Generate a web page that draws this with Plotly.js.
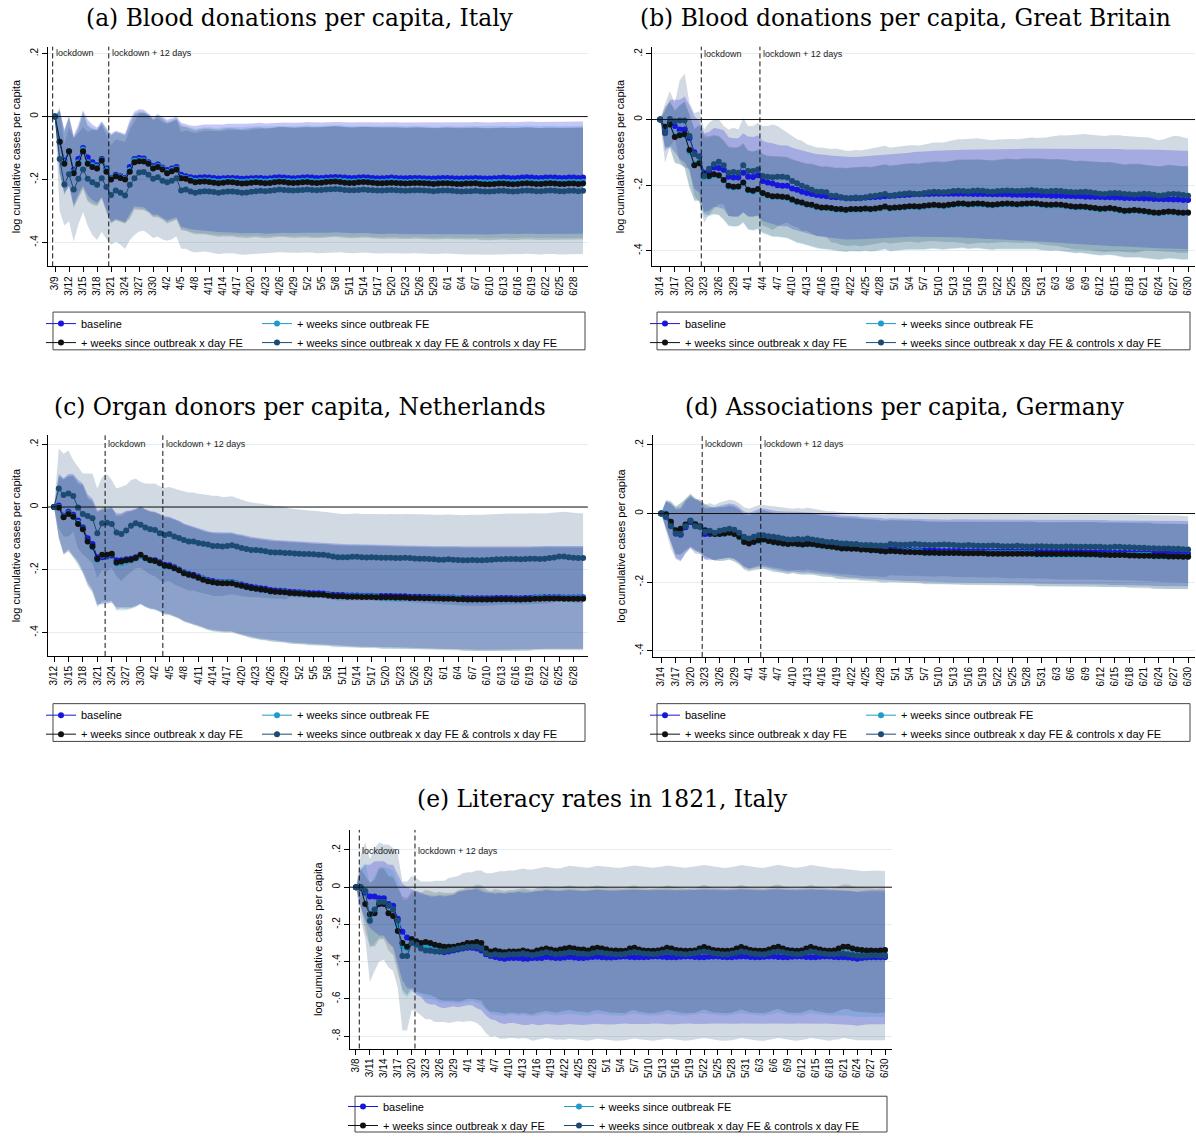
<!DOCTYPE html>
<html><head><meta charset="utf-8">
<script src="https://cdn.plot.ly/plotly-3.0.1.min.js"></script>
<style>html,body{margin:0;padding:0;background:#fff}</style>
</head><body><div id="chart" style="width:1196px;height:1140px"></div>
<script>
// ---------------- DATA ----------------
const seriesNames = ['baseline','+ weeks since outbreak FE','+ weeks since outbreak x day FE','+ weeks since outbreak x day FE & controls x day FE'];
const titles = ['(a) Blood donations per capita, Italy','(b) Blood donations per capita, Great Britain','(c) Organ donors per capita, Netherlands','(d) Associations per capita, Germany','(e) Literacy rates in 1821, Italy'];
const yTickVals = [.2,0,-.2,-.4];
const yTickText = ['.2','0','-.2','-.4'];
const eTickVals = [.2,0,-.2,-.4,-.6,-.8];
const eTickText = ['.2','0','-.2','-.4','-.6','-.8'];
const startDates = ['2020-03-09','2020-03-14','2020-03-12','2020-03-14','2020-03-08'];
const lockdowns = [['2020-03-08 12:00','2020-03-20 12:00'],['2020-03-22 10:00','2020-04-03 10:00'],['2020-03-22 15:00','2020-04-03 15:00'],['2020-03-22 10:00','2020-04-03 10:00'],['2020-03-08 17:00','2020-03-20 17:00']];

// (a) Italy blood donations, 3/9 - 6/30
const aBase=[0,-.08,-.14,-.11,-.17,-.135,-.10,-.13,-.145,-.155,
-.135,-.165,-.195,-.185,-.19,-.195,-.16,-.135,-.132,-.133,
-.145,-.157,-.152,-.162,-.17,-.165,-.16,-.185,-.19,-.193,
-.195,-.194,-.193,-.194,-.195,-.197,-.196,-.195,-.195,-.196,
-.198,-.197,-.196,-.195,-.195,-.197,-.196,-.194,-.193,-.194,
-.195,-.196,-.195,-.194,-.193,-.194,-.195,-.195,-.194,-.193,
-.192,-.193,-.194,-.195,-.195,-.194,-.193,-.194,-.195,-.196,
-.196,-.195,-.194,-.195,-.196,-.196,-.195,-.195,-.195,-.196,
-.197,-.197,-.196,-.195,-.195,-.196,-.197,-.197,-.196,-.196,
-.195,-.196,-.197,-.197,-.196,-.195,-.194,-.195,-.196,-.195,
-.194,-.193,-.194,-.195,-.195,-.194,-.194,-.194,-.195,-.195,
-.194,-.194,-.195,-.194];
const aWfe=[0,-.08,-.145,-.11,-.175,-.145,-.105,-.145,-.155,-.16,
-.138,-.17,-.197,-.188,-.193,-.198,-.17,-.14,-.138,-.139,
-.148,-.162,-.157,-.165,-.176,-.17,-.165,-.192,-.195,-.2,
-.204,-.203,-.202,-.203,-.205,-.207,-.205,-.204,-.204,-.206,
-.207,-.206,-.205,-.204,-.205,-.206,-.205,-.204,-.203,-.204,
-.205,-.206,-.205,-.204,-.203,-.205,-.206,-.205,-.204,-.203,
-.202,-.203,-.205,-.206,-.206,-.205,-.204,-.205,-.206,-.207,
-.207,-.206,-.205,-.206,-.207,-.208,-.207,-.206,-.206,-.207,
-.208,-.209,-.208,-.207,-.207,-.208,-.209,-.209,-.208,-.208,
-.207,-.208,-.209,-.209,-.208,-.207,-.207,-.208,-.209,-.208,
-.207,-.206,-.207,-.208,-.208,-.207,-.206,-.207,-.208,-.208,
-.207,-.207,-.208,-.207];
const aXday=[0,-.08,-.15,-.11,-.18,-.15,-.11,-.15,-.16,-.165,
-.14,-.175,-.20,-.19,-.195,-.20,-.175,-.145,-.142,-.143,
-.15,-.165,-.16,-.168,-.18,-.174,-.168,-.196,-.198,-.204,
-.209,-.207,-.206,-.208,-.21,-.212,-.21,-.208,-.209,-.211,
-.213,-.212,-.21,-.209,-.21,-.212,-.211,-.209,-.207,-.208,
-.21,-.211,-.21,-.209,-.208,-.21,-.211,-.21,-.208,-.207,
-.206,-.208,-.21,-.211,-.211,-.209,-.208,-.209,-.21,-.212,
-.212,-.211,-.21,-.211,-.212,-.213,-.212,-.211,-.211,-.212,
-.213,-.214,-.213,-.212,-.212,-.213,-.214,-.214,-.213,-.213,
-.212,-.214,-.215,-.215,-.214,-.213,-.213,-.214,-.215,-.214,
-.213,-.212,-.213,-.214,-.214,-.213,-.212,-.213,-.214,-.214,
-.213,-.213,-.214,-.213];
const aCtrl=[0,-.135,-.216,-.183,-.232,-.198,-.168,-.198,-.209,-.217,
-.196,-.224,-.249,-.235,-.242,-.251,-.217,-.196,-.178,-.176,
-.185,-.198,-.193,-.204,-.209,-.204,-.196,-.235,-.232,-.238,
-.242,-.239,-.237,-.238,-.24,-.242,-.24,-.238,-.238,-.24,
-.242,-.241,-.239,-.237,-.236,-.237,-.236,-.234,-.232,-.233,
-.234,-.235,-.234,-.233,-.232,-.233,-.234,-.233,-.232,-.231,
-.23,-.231,-.233,-.234,-.234,-.233,-.232,-.233,-.234,-.235,
-.235,-.234,-.233,-.234,-.235,-.236,-.235,-.234,-.234,-.235,
-.236,-.237,-.236,-.235,-.235,-.236,-.237,-.238,-.237,-.237,
-.236,-.237,-.238,-.238,-.237,-.236,-.236,-.237,-.238,-.237,
-.236,-.235,-.236,-.237,-.237,-.236,-.235,-.236,-.237,-.237,
-.236,-.236,-.237,-.236];
const aHw=[0,.10,.10,.11,.11,.11,.12,.12,.12,.12,
.12,.13,.14,.14,.14,.14,.15,.15,.155,.155,
.155,.155,.16,.16,.16,.16,.16,.165,.165,.165,
.165,.167,.168,.169,.17,.17,.171,.172,.172,.173,
.173,.174,.174,.174,.175,.175,.175,.175,.175,.175,
.175,.175,.175,.175,.176,.176,.176,.176,.176,.176,
.176,.176,.176,.176,.176,.176,.176,.176,.177,.177,
.177,.177,.177,.177,.177,.177,.177,.177,.177,.177,
.177,.177,.177,.177,.177,.177,.177,.177,.178,.178,
.178,.178,.178,.178,.178,.178,.178,.178,.178,.178,
.178,.178,.178,.178,.178,.178,.178,.178,.178,.178,
.178,.178,.178,.178];
const aHwC=[0,.165,.13,.15,.165,.145,.135,.15,.167,.175,
.17,.165,.158,.162,.165,.17,.175,.18,.187,.187,
.188,.188,.188,.187,.186,.186,.185,.185,.188,.19,
.19,.191,.192,.193,.194,.195,.195,.196,.196,.197,
.197,.197,.198,.198,.198,.198,.198,.198,.199,.199,
.199,.199,.199,.199,.199,.199,.2,.2,.2,.2,
.2,.2,.2,.2,.2,.2,.2,.2,.2,.2,
.2,.2,.2,.2,.2,.2,.2,.2,.2,.2,
.2,.2,.2,.2,.2,.2,.2,.201,.201,.201,
.201,.201,.201,.201,.201,.201,.201,.201,.201,.201,
.201,.201,.201,.201,.201,.201,.201,.201,.201,.201,
.201,.201,.201,.201];

// (b) Great Britain blood donations, 3/14 - 6/30
const bBase=[0,-.035,-.01,-.02,-.03,-.03,-.056,-.10,-.113,-.162,
-.158,-.146,-.148,-.153,-.174,-.177,-.177,-.162,-.174,-.175,
-.17,-.187,-.192,-.195,-.2,-.202,-.202,-.21,-.214,-.22,
-.224,-.227,-.23,-.232,-.234,-.236,-.237,-.238,-.24,-.24,
-.24,-.239,-.238,-.237,-.236,-.235,-.234,-.233,-.232,-.231,
-.23,-.229,-.228,-.228,-.227,-.227,-.226,-.226,-.226,-.226,
-.226,-.226,-.226,-.226,-.227,-.227,-.227,-.227,-.228,-.228,
-.228,-.228,-.229,-.229,-.229,-.23,-.23,-.23,-.231,-.231,
-.232,-.232,-.232,-.233,-.233,-.234,-.234,-.235,-.235,-.236,
-.236,-.237,-.237,-.238,-.238,-.239,-.239,-.24,-.24,-.241,
-.241,-.242,-.242,-.243,-.243,-.244,-.244,-.245,-.245];
const bWfe=[0,-.025,-.018,-.05,-.045,-.048,-.1,-.135,-.13,-.177,
-.175,-.17,-.172,-.186,-.205,-.207,-.206,-.195,-.216,-.219,
-.215,-.227,-.232,-.236,-.236,-.237,-.239,-.246,-.252,-.255,
-.26,-.262,-.267,-.27,-.27,-.272,-.275,-.275,-.277,-.275,
-.275,-.275,-.273,-.275,-.273,-.271,-.267,-.272,-.27,-.269,
-.268,-.266,-.266,-.267,-.265,-.263,-.262,-.263,-.264,-.262,
-.26,-.258,-.258,-.26,-.259,-.258,-.259,-.261,-.262,-.26,
-.259,-.258,-.259,-.26,-.259,-.258,-.257,-.258,-.26,-.262,
-.262,-.261,-.262,-.264,-.266,-.268,-.267,-.268,-.27,-.272,
-.274,-.273,-.272,-.274,-.277,-.28,-.279,-.278,-.279,-.281,
-.283,-.285,-.286,-.284,-.282,-.283,-.285,-.286,-.285];
const bXday=[0,-.022,-.015,-.053,-.048,-.045,-.093,-.139,-.133,-.167,
-.172,-.167,-.17,-.184,-.202,-.205,-.204,-.192,-.214,-.217,
-.212,-.224,-.23,-.234,-.234,-.235,-.237,-.244,-.25,-.253,
-.258,-.26,-.265,-.268,-.268,-.27,-.273,-.273,-.275,-.273,
-.273,-.273,-.271,-.273,-.271,-.269,-.265,-.27,-.268,-.267,
-.266,-.264,-.264,-.265,-.263,-.261,-.26,-.261,-.262,-.26,
-.258,-.256,-.256,-.258,-.257,-.256,-.257,-.259,-.26,-.258,
-.257,-.256,-.257,-.258,-.257,-.256,-.255,-.256,-.258,-.26,
-.26,-.259,-.26,-.262,-.264,-.266,-.265,-.266,-.268,-.27,
-.272,-.271,-.27,-.272,-.275,-.278,-.277,-.276,-.277,-.279,
-.281,-.283,-.284,-.282,-.28,-.281,-.283,-.284,-.283];
const bCtrl=[0,-.042,.002,-.005,-.003,-.003,-.05,-.106,-.113,-.172,
-.15,-.136,-.129,-.139,-.162,-.16,-.162,-.139,-.157,-.157,
-.152,-.172,-.174,-.176,-.174,-.174,-.177,-.187,-.194,-.202,
-.207,-.214,-.22,-.22,-.222,-.232,-.232,-.237,-.24,-.24,
-.238,-.24,-.238,-.234,-.232,-.23,-.227,-.232,-.23,-.228,
-.226,-.225,-.226,-.227,-.224,-.222,-.22,-.221,-.222,-.22,
-.218,-.217,-.218,-.219,-.217,-.216,-.217,-.219,-.22,-.218,
-.217,-.216,-.217,-.218,-.217,-.216,-.215,-.216,-.218,-.219,
-.218,-.217,-.218,-.22,-.221,-.222,-.221,-.22,-.222,-.224,
-.226,-.227,-.225,-.224,-.225,-.227,-.228,-.229,-.228,-.226,
-.227,-.229,-.232,-.231,-.228,-.227,-.228,-.23,-.232];
const bHwB=[0,.06,.07,.08,.09,.10,.10,.11,.11,.12,
.12,.12,.12,.12,.12,.12,.12,.12,.122,.122,
.122,.122,.122,.123,.123,.123,.123,.124,.124,.124,
.124,.125,.125,.125,.125,.126,.126,.126,.126,.126,
.126,.126,.126,.126,.126,.126,.126,.126,.127,.127,
.128,.128,.129,.129,.13,.13,.131,.131,.132,.132,
.133,.133,.134,.134,.135,.135,.136,.136,.137,.137,
.138,.138,.139,.139,.14,.14,.141,.141,.142,.142,
.143,.143,.144,.144,.145,.145,.146,.146,.146,.147,
.147,.147,.148,.148,.148,.148,.149,.149,.149,.149,
.15,.15,.15,.15,.15,.15,.15,.15,.15];
const bHwM=[0,.06,.07,.08,.09,.10,.11,.11,.115,.12,
.12,.12,.12,.12,.12,.12,.12,.12,.12,.12,
.12,.12,.12,.122,.122,.122,.123,.123,.124,.124,
.124,.125,.125,.125,.126,.126,.126,.127,.127,.127,
.128,.128,.128,.128,.129,.129,.129,.13,.13,.13,
.13,.131,.131,.131,.132,.132,.132,.133,.133,.133,
.134,.134,.134,.135,.135,.135,.136,.136,.136,.136,
.137,.137,.137,.137,.138,.138,.138,.138,.139,.139,
.139,.139,.14,.14,.14,.14,.14,.14,.141,.141,
.141,.141,.141,.141,.141,.141,.142,.142,.142,.142,
.142,.142,.142,.142,.142,.142,.142,.142,.142];
const bHwC=[0,.09,.085,.055,.123,.143,.10,.126,.138,.142,
.14,.136,.129,.119,.132,.135,.132,.144,.137,.137,
.142,.152,.154,.161,.154,.144,.137,.137,.134,.137,
.132,.134,.135,.135,.135,.142,.144,.145,.145,.145,
.145,.146,.146,.146,.146,.147,.147,.146,.146,.147,
.147,.147,.148,.148,.148,.149,.15,.151,.152,.154,
.155,.157,.158,.16,.16,.159,.158,.158,.157,.157,
.157,.157,.158,.158,.159,.159,.16,.16,.162,.164,
.166,.168,.17,.171,.173,.174,.175,.176,.176,.177,
.177,.177,.177,.177,.177,.177,.177,.177,.176,.174,
.172,.17,.169,.171,.174,.177,.178,.176,.174];

// (c) Netherlands organ donors, 3/12 - 6/30
const cBase=[0,.005,-.028,-.015,-.025,-.043,-.065,-.1,-.118,-.16,
-.16,-.158,-.155,-.17,-.17,-.167,-.165,-.16,-.155,-.162,
-.168,-.17,-.176,-.184,-.186,-.192,-.199,-.208,-.213,-.216,
-.222,-.228,-.233,-.236,-.238,-.239,-.239,-.239,-.244,-.247,
-.251,-.254,-.257,-.259,-.261,-.265,-.266,-.267,-.268,-.27,
-.271,-.272,-.273,-.274,-.275,-.275,-.276,-.278,-.28,-.281,
-.281,-.282,-.282,-.282,-.283,-.283,-.283,-.284,-.284,-.284,
-.284,-.285,-.285,-.285,-.286,-.286,-.286,-.287,-.287,-.288,
-.288,-.289,-.289,-.289,-.29,-.29,-.291,-.291,-.291,-.291,
-.291,-.291,-.29,-.29,-.29,-.29,-.291,-.291,-.29,-.29,
-.289,-.289,-.288,-.288,-.288,-.288,-.289,-.289,-.289,-.289,-.288];
const cWfe=[0,0,-.03,-.02,-.03,-.05,-.07,-.11,-.13,-.17,
-.155,-.155,-.15,-.18,-.18,-.175,-.17,-.165,-.155,-.165,
-.17,-.175,-.18,-.19,-.19,-.195,-.2,-.21,-.215,-.22,
-.225,-.23,-.235,-.24,-.24,-.24,-.24,-.24,-.245,-.25,
-.255,-.26,-.26,-.265,-.265,-.27,-.27,-.27,-.27,-.275,
-.275,-.275,-.275,-.28,-.28,-.28,-.28,-.28,-.285,-.285,
-.285,-.285,-.285,-.285,-.285,-.285,-.285,-.285,-.29,-.29,
-.29,-.29,-.29,-.29,-.29,-.29,-.29,-.29,-.29,-.29,
-.29,-.29,-.29,-.29,-.29,-.295,-.295,-.295,-.295,-.295,
-.295,-.295,-.295,-.295,-.295,-.295,-.295,-.295,-.295,-.295,
-.29,-.29,-.29,-.29,-.29,-.29,-.29,-.29,-.29,-.29,-.29];
const cXday=[0,-.002,-.033,-.022,-.031,-.054,-.071,-.11,-.126,-.166,
-.152,-.152,-.149,-.177,-.174,-.17,-.168,-.163,-.152,-.163,
-.17,-.172,-.179,-.187,-.189,-.195,-.202,-.211,-.216,-.219,
-.226,-.232,-.237,-.24,-.242,-.243,-.243,-.243,-.248,-.251,
-.255,-.258,-.261,-.263,-.265,-.269,-.27,-.271,-.272,-.274,
-.275,-.276,-.277,-.278,-.279,-.279,-.28,-.282,-.284,-.285,
-.285,-.286,-.286,-.286,-.287,-.287,-.287,-.288,-.288,-.288,
-.288,-.289,-.289,-.289,-.29,-.29,-.29,-.291,-.291,-.292,
-.292,-.293,-.293,-.293,-.294,-.294,-.295,-.295,-.295,-.295,
-.295,-.295,-.294,-.294,-.294,-.294,-.295,-.295,-.294,-.294,
-.293,-.293,-.292,-.292,-.292,-.292,-.293,-.293,-.293,-.293,-.293];
const cCtrl=[0,.059,.038,.043,.035,-.002,-.022,-.029,-.036,-.084,
-.052,-.05,-.054,-.081,-.086,-.075,-.06,-.052,-.057,-.065,
-.071,-.073,-.084,-.089,-.086,-.094,-.099,-.105,-.11,-.11,
-.115,-.117,-.12,-.124,-.124,-.126,-.124,-.122,-.126,-.131,
-.134,-.137,-.137,-.139,-.141,-.144,-.145,-.145,-.147,-.147,
-.148,-.149,-.15,-.15,-.151,-.152,-.152,-.155,-.158,-.16,
-.16,-.16,-.159,-.159,-.16,-.161,-.16,-.161,-.162,-.162,
-.162,-.163,-.163,-.162,-.163,-.164,-.165,-.165,-.166,-.167,
-.168,-.168,-.167,-.168,-.169,-.17,-.17,-.169,-.17,-.17,
-.169,-.168,-.167,-.167,-.166,-.166,-.166,-.167,-.166,-.165,
-.165,-.166,-.165,-.163,-.161,-.158,-.158,-.16,-.162,-.163,-.163];
const cHw=[0,.10,.12,.12,.13,.13,.14,.14,.145,.15,
.15,.15,.15,.15,.15,.155,.155,.155,.155,.155,
.155,.155,.155,.155,.155,.155,.155,.155,.155,.155,
.155,.155,.156,.156,.157,.157,.158,.158,.158,.159,
.159,.159,.16,.16,.16,.16,.161,.161,.161,.161,
.162,.162,.162,.162,.162,.162,.162,.162,.162,.162,
.163,.163,.163,.163,.163,.163,.163,.163,.163,.163,
.163,.163,.163,.163,.163,.163,.163,.163,.163,.163,
.164,.164,.164,.164,.164,.164,.164,.164,.164,.164,
.164,.164,.164,.164,.164,.164,.164,.164,.164,.164,
.164,.164,.164,.164,.164,.164,.164,.164,.164,.164,.164];
const cHwC=[0,.127,.132,.137,.114,.13,.129,.136,.143,.143,
.148,.155,.14,.14,.151,.145,.146,.143,.137,.14,
.145,.148,.15,.15,.15,.152,.153,.155,.156,.156,
.157,.158,.158,.16,.16,.158,.157,.156,.155,.154,
.152,.151,.15,.15,.149,.149,.148,.148,.148,.142,
.141,.14,.14,.139,.139,.139,.138,.138,.139,.139,
.138,.138,.138,.138,.138,.138,.138,.139,.139,.139,
.14,.14,.14,.14,.141,.141,.141,.142,.142,.142,
.142,.143,.143,.143,.144,.144,.145,.145,.145,.145,
.145,.145,.145,.145,.145,.145,.145,.145,.145,.145,
.144,.144,.144,.144,.143,.143,.143,.143,.143,.143,.143];

// (d) Germany associations, 3/14 - 6/30
const dBase=[0,-.005,-.03,-.058,-.062,-.04,-.025,-.035,-.04,-.06,
-.06,-.058,-.055,-.052,-.05,-.053,-.062,-.075,-.08,-.076,
-.071,-.07,-.074,-.077,-.079,-.081,-.083,-.082,-.083,-.084,
-.083,-.084,-.086,-.087,-.089,-.091,-.093,-.096,-.096,-.097,
-.098,-.1,-.1,-.101,-.102,-.103,-.105,-.104,-.105,-.106,
-.106,-.106,-.107,-.107,-.108,-.108,-.108,-.109,-.109,-.109,
-.109,-.109,-.11,-.11,-.11,-.11,-.11,-.111,-.111,-.111,
-.111,-.111,-.111,-.111,-.111,-.111,-.111,-.112,-.112,-.112,
-.112,-.112,-.112,-.112,-.112,-.112,-.112,-.113,-.113,-.113,
-.113,-.113,-.114,-.114,-.114,-.114,-.115,-.115,-.115,-.115,
-.115,-.116,-.116,-.116,-.116,-.117,-.117,-.117,-.117];
const dWfe=[0,0,-.025,-.05,-.045,-.035,-.02,-.03,-.04,-.05,
-.055,-.06,-.06,-.06,-.055,-.06,-.07,-.08,-.085,-.08,
-.08,-.075,-.08,-.085,-.085,-.085,-.09,-.085,-.09,-.09,
-.09,-.09,-.09,-.095,-.095,-.095,-.1,-.1,-.1,-.1,
-.1,-.105,-.105,-.105,-.105,-.11,-.11,-.11,-.11,-.11,
-.11,-.11,-.11,-.11,-.115,-.115,-.115,-.115,-.115,-.115,
-.115,-.115,-.115,-.115,-.115,-.115,-.115,-.115,-.115,-.115,
-.115,-.115,-.115,-.115,-.115,-.115,-.115,-.12,-.12,-.12,
-.12,-.12,-.12,-.12,-.12,-.12,-.12,-.12,-.12,-.12,
-.12,-.12,-.12,-.12,-.12,-.12,-.12,-.12,-.12,-.12,
-.12,-.125,-.125,-.125,-.125,-.125,-.125,-.125,-.125];
const dXday=[0,-.002,-.024,-.049,-.044,-.032,-.021,-.031,-.037,-.049,
-.056,-.06,-.06,-.058,-.056,-.06,-.068,-.083,-.087,-.083,
-.078,-.076,-.08,-.083,-.085,-.087,-.089,-.087,-.089,-.09,
-.089,-.089,-.092,-.093,-.095,-.097,-.099,-.102,-.102,-.103,
-.103,-.105,-.105,-.107,-.107,-.109,-.111,-.109,-.11,-.111,
-.112,-.112,-.113,-.113,-.114,-.114,-.114,-.115,-.115,-.115,
-.115,-.115,-.116,-.116,-.116,-.116,-.116,-.117,-.117,-.117,
-.117,-.117,-.117,-.117,-.117,-.117,-.117,-.118,-.118,-.118,
-.118,-.118,-.118,-.118,-.118,-.118,-.118,-.119,-.119,-.119,
-.12,-.12,-.121,-.121,-.121,-.121,-.122,-.122,-.123,-.123,
-.123,-.124,-.124,-.124,-.125,-.125,-.125,-.126,-.126];
const dCtrl=[0,-.01,-.037,-.058,-.06,-.037,-.021,-.037,-.039,-.053,
-.05,-.056,-.05,-.047,-.044,-.047,-.056,-.068,-.073,-.068,
-.063,-.063,-.066,-.068,-.07,-.073,-.076,-.076,-.074,-.076,
-.073,-.076,-.078,-.08,-.083,-.083,-.085,-.087,-.087,-.089,
-.089,-.092,-.092,-.092,-.093,-.093,-.094,-.089,-.09,-.091,
-.091,-.09,-.089,-.09,-.091,-.092,-.092,-.091,-.09,-.091,
-.092,-.093,-.093,-.092,-.093,-.094,-.094,-.094,-.093,-.094,
-.095,-.095,-.095,-.094,-.095,-.096,-.096,-.095,-.095,-.096,
-.096,-.097,-.097,-.096,-.096,-.097,-.097,-.097,-.097,-.097,
-.097,-.098,-.098,-.097,-.097,-.098,-.098,-.099,-.1,-.1,
-.101,-.101,-.102,-.102,-.102,-.103,-.103,-.104,-.105];
const dHw=[0,.04,.06,.07,.075,.075,.075,.075,.075,.075,
.076,.077,.078,.078,.079,.08,.08,.081,.082,.083,
.084,.085,.085,.086,.086,.087,.087,.087,.088,.088,
.088,.088,.089,.089,.089,.089,.09,.09,.09,.09,
.09,.09,.09,.09,.09,.09,.09,.09,.09,.09,
.091,.091,.091,.091,.091,.091,.091,.091,.091,.091,
.092,.092,.092,.092,.092,.092,.092,.092,.092,.092,
.093,.093,.093,.093,.093,.093,.093,.093,.093,.093,
.093,.093,.094,.094,.094,.094,.094,.094,.094,.094,
.094,.094,.094,.094,.094,.094,.095,.095,.095,.095,
.095,.095,.095,.095,.095,.095,.095,.095,.095];
const dHwC=[0,.045,.065,.075,.08,.08,.08,.08,.08,.08,
.08,.081,.082,.083,.084,.085,.086,.086,.087,.087,
.088,.088,.089,.089,.089,.09,.09,.09,.09,.09,
.09,.09,.09,.09,.09,.09,.09,.09,.09,.09,
.09,.09,.091,.091,.091,.091,.091,.091,.091,.091,
.092,.092,.092,.092,.092,.092,.092,.092,.092,.092,
.093,.093,.093,.093,.093,.093,.093,.093,.093,.093,
.094,.094,.094,.094,.094,.094,.094,.094,.094,.094,
.095,.095,.095,.095,.095,.095,.095,.095,.095,.095,
.096,.096,.096,.096,.096,.096,.096,.096,.096,.096,
.097,.097,.097,.097,.097,.097,.097,.097,.097];

// (e) Literacy rates 1821 Italy, 3/8 - 6/30
const eBase=[0,-.005,-.03,-.05,-.05,-.06,-.06,-.09,-.10,-.17,
-.24,-.27,-.28,-.30,-.31,-.33,-.34,-.34,-.345,-.35,
-.345,-.34,-.335,-.33,-.325,-.325,-.33,-.34,-.36,-.37,
-.375,-.38,-.385,-.38,-.38,-.38,-.385,-.385,-.38,-.38,
-.38,-.375,-.378,-.38,-.38,-.378,-.375,-.378,-.38,-.38,
-.378,-.375,-.374,-.376,-.378,-.378,-.376,-.374,-.373,-.375,
-.376,-.377,-.377,-.375,-.373,-.372,-.374,-.376,-.377,-.376,
-.374,-.372,-.373,-.375,-.376,-.376,-.374,-.372,-.373,-.375,
-.376,-.376,-.374,-.372,-.373,-.375,-.376,-.376,-.374,-.372,
-.373,-.375,-.376,-.376,-.374,-.372,-.373,-.375,-.376,-.376,
-.374,-.372,-.373,-.375,-.376,-.376,-.378,-.38,-.385,-.38,
-.378,-.377,-.376,-.376,-.376];
const eWfe=[0,0,-.02,-.16,-.12,-.08,-.08,-.10,-.12,-.2,
-.32,-.33,-.30,-.30,-.31,-.32,-.32,-.325,-.33,-.33,
-.33,-.33,-.325,-.32,-.315,-.31,-.31,-.32,-.34,-.355,
-.355,-.36,-.36,-.355,-.355,-.355,-.35,-.355,-.36,-.355,
-.35,-.345,-.35,-.355,-.352,-.35,-.345,-.348,-.352,-.354,
-.355,-.35,-.345,-.348,-.352,-.354,-.355,-.355,-.354,-.348,
-.344,-.348,-.352,-.354,-.355,-.354,-.35,-.344,-.348,-.352,
-.354,-.355,-.354,-.35,-.345,-.342,-.346,-.35,-.354,-.355,
-.355,-.352,-.348,-.342,-.346,-.35,-.354,-.355,-.355,-.35,
-.344,-.34,-.346,-.35,-.354,-.355,-.354,-.348,-.342,-.346,
-.35,-.354,-.355,-.355,-.354,-.352,-.355,-.36,-.362,-.362,
-.362,-.36,-.36,-.361,-.362];
const eXday=[0,0,-.09,-.145,-.14,-.09,-.09,-.14,-.155,-.235,
-.30,-.32,-.28,-.29,-.30,-.295,-.30,-.31,-.315,-.32,
-.32,-.32,-.315,-.31,-.30,-.30,-.295,-.30,-.33,-.345,
-.34,-.345,-.35,-.345,-.345,-.345,-.34,-.345,-.35,-.34,
-.335,-.33,-.335,-.34,-.335,-.33,-.325,-.33,-.335,-.335,
-.34,-.33,-.325,-.33,-.335,-.34,-.34,-.342,-.342,-.33,
-.325,-.335,-.34,-.342,-.342,-.34,-.335,-.325,-.33,-.338,
-.34,-.342,-.342,-.34,-.33,-.322,-.33,-.338,-.34,-.342,
-.342,-.34,-.33,-.322,-.33,-.338,-.34,-.342,-.342,-.335,
-.325,-.32,-.33,-.338,-.34,-.342,-.34,-.33,-.322,-.33,
-.335,-.34,-.342,-.34,-.33,-.32,-.32,-.33,-.335,-.338,
-.34,-.34,-.342,-.34,-.338];
const eCtrl=[0,0,-.02,-.18,-.12,-.08,-.08,-.10,-.12,-.18,
-.37,-.37,-.30,-.31,-.33,-.34,-.34,-.345,-.345,-.345,
-.34,-.335,-.33,-.325,-.32,-.32,-.32,-.33,-.355,-.365,
-.36,-.365,-.365,-.36,-.36,-.36,-.355,-.36,-.365,-.36,
-.355,-.35,-.355,-.36,-.358,-.355,-.35,-.352,-.356,-.358,
-.36,-.355,-.35,-.352,-.356,-.358,-.36,-.36,-.358,-.352,
-.348,-.352,-.356,-.358,-.36,-.358,-.354,-.348,-.352,-.356,
-.358,-.36,-.358,-.355,-.35,-.346,-.35,-.355,-.358,-.36,
-.36,-.357,-.352,-.346,-.35,-.355,-.358,-.36,-.36,-.355,
-.348,-.345,-.35,-.355,-.358,-.36,-.358,-.352,-.346,-.35,
-.355,-.358,-.36,-.36,-.358,-.356,-.36,-.365,-.368,-.368,
-.368,-.366,-.366,-.367,-.368];
const eHwB=[0,.10,.15,.17,.19,.20,.20,.21,.22,.24,
.26,.27,.27,.28,.28,.29,.29,.29,.30,.30,
.30,.30,.31,.31,.31,.31,.32,.32,.33,.34,
.34,.35,.35,.35,.35,.355,.355,.355,.355,.36,
.36,.36,.36,.36,.36,.36,.36,.36,.36,.36,
.36,.36,.36,.36,.36,.36,.36,.36,.36,.36,
.36,.36,.36,.36,.36,.36,.36,.36,.36,.36,
.36,.36,.36,.36,.36,.36,.36,.36,.36,.36,
.36,.36,.36,.36,.36,.36,.36,.36,.36,.36,
.36,.36,.36,.36,.36,.36,.36,.36,.36,.36,
.36,.36,.36,.36,.36,.36,.36,.36,.36,.36,
.36,.36,.36,.36,.36];
const eHwM=[0,.10,.15,.17,.18,.19,.19,.20,.21,.23,
.25,.26,.26,.27,.27,.28,.28,.28,.29,.29,
.29,.29,.30,.30,.30,.30,.31,.31,.32,.325,
.33,.33,.33,.33,.33,.335,.335,.335,.335,.335,
.335,.335,.335,.335,.335,.335,.335,.335,.335,.335,
.335,.335,.335,.335,.335,.335,.335,.335,.335,.335,
.335,.335,.335,.335,.335,.335,.335,.335,.335,.335,
.335,.335,.335,.335,.335,.335,.335,.335,.335,.335,
.335,.335,.335,.335,.335,.335,.335,.335,.335,.335,
.335,.335,.335,.335,.335,.335,.335,.335,.335,.335,
.335,.335,.335,.335,.335,.335,.335,.335,.335,.335,
.335,.335,.335,.335,.335];
const eHwC=[0,.17,.26,.33,.33,.32,.31,.33,.33,.36,
.40,.40,.36,.36,.36,.37,.37,.38,.38,.38,
.39,.39,.39,.40,.40,.40,.41,.42,.43,.44,
.44,.45,.45,.45,.45,.455,.455,.455,.46,.46,
.46,.46,.46,.46,.46,.465,.465,.465,.465,.465,
.465,.465,.465,.465,.465,.465,.465,.465,.465,.465,
.465,.465,.465,.465,.465,.465,.465,.465,.465,.465,
.465,.465,.465,.465,.465,.465,.465,.465,.465,.465,
.465,.465,.465,.465,.465,.465,.465,.465,.465,.465,
.465,.465,.465,.465,.465,.465,.465,.465,.465,.465,
.465,.465,.465,.46,.46,.455,.455,.455,.455,.455,
.455,.455,.455,.455,.455];

// ---------------- LAYOUT / STYLE ----------------
const W = 1196, H = 1140;
const FONT = 'Liberation Sans, Arial, sans-serif';
const SERIF = 'DejaVu Serif, serif';
const COLORS = {base:'#1616dc', wfe:'#1f9bcb', xday:'#111111', ctrl:'#1b4a72'};
const FILLS = {ctrl:'rgba(26,72,112,0.2)', base:'rgba(30,30,225,0.25)', wfe:'rgba(30,150,200,0.2)', xday:'rgba(0,0,0,0.14)'};

const panels = [
 {base:aBase,wfe:aWfe,xday:aXday,ctrl:aCtrl,hwB:aHw,hwM:aHw,hwC:aHwC,
  box:[48,587.6,47,268], xr:['2020-03-07 12:00','2020-06-30 23:30'], yr:[-.476,.222], tv:yTickVals, tt:yTickText,
  leg:[53,585,314,352], legX:[41,257], legY:311, tx:300, ty:18, labY:0.973},
 {base:bBase,wfe:bWfe,xday:bXday,ctrl:bCtrl,hwB:bHwB,hwM:bHwM,hwC:bHwC,
  box:[652,1195,47,268], xr:['2020-03-12 08:00','2020-07-01 10:00'], yr:[-.4475,.222], tv:yTickVals, tt:yTickText,
  leg:[657,1190,314,352], legX:[645,861], legY:311, tx:905, ty:18, labY:0.968},
 {base:cBase,wfe:cWfe,xday:cXday,ctrl:cCtrl,hwB:cHw,hwM:cHw,hwC:cHwC,
  box:[48,587.8,438,660], xr:['2020-03-10 18:00','2020-06-30 23:30'], yr:[-.475,.2286], tv:yTickVals, tt:yTickText,
  leg:[53,585,708,746], legX:[41,257], legY:705, tx:300, ty:410, labY:0.959},
 {base:dBase,wfe:dWfe,xday:dXday,ctrl:dCtrl,hwB:dHw,hwM:dHw,hwC:dHwC,
  box:[653,1195,438,661], xr:['2020-03-12 08:00','2020-07-01 10:00'], yr:[-.418,.228], tv:yTickVals, tt:yTickText,
  leg:[657,1190,708,746], legX:[645,861], legY:705, tx:905, ty:410, labY:0.959},
 {base:eBase,wfe:eWfe,xday:eXday,ctrl:eCtrl,hwB:eHwB,hwM:eHwM,hwC:eHwC,
  box:[350,892,835,1055], xr:['2020-03-06 17:00','2020-07-01 12:00'], yr:[-.867,.308], tv:eTickVals, tt:eTickText,
  leg:[355,887,1103,1139], legX:[343,559], legY:1099, tx:602, ty:804, labY:0.905}
];

function days(start, n){
  const t0 = Date.parse(start + 'T00:00:00Z'); const out = [];
  for(let i=0;i<n;i++){ out.push(new Date(t0 + i*864e5).toISOString().slice(0,10)); }
  return out;
}

const traces = [], shapes = [], annotations = [];
const layout = {width:W, height:H, margin:{l:0,r:0,t:0,b:0}, paper_bgcolor:'#fff', plot_bgcolor:'rgba(0,0,0,0)',
  font:{family:FONT, color:'#000', size:11}, showlegend:true, hovermode:false};
const problems = [];

panels.forEach((p,i)=>{
  const ax = i===0 ? '' : String(i+1);
  const xa = 'x'+ax, ya = 'y'+ax;
  ['base','wfe','xday','ctrl','hwB','hwM','hwC'].forEach(k=>{ if(p[k].length!==p.base.length) problems.push('panel '+i+' '+k+' len '+p[k].length+' vs '+p.base.length); });
  const dates = days(startDates[i], p.base.length);
  [['ctrl',p.hwC],['base',p.hwB],['wfe',p.hwM],['xday',p.hwM]].forEach(([k,hw])=>{
    const est = p[k];
    traces.push({x:dates, y:est.map((v,j)=>v-hw[j]), xaxis:xa, yaxis:ya, mode:'lines', line:{width:0, color:FILLS[k]}, hoverinfo:'skip', showlegend:false});
    traces.push({x:dates, y:est.map((v,j)=>v+hw[j]), xaxis:xa, yaxis:ya, mode:'lines', line:{width:0, color:FILLS[k]}, fill:'tonexty', fillcolor:FILLS[k], hoverinfo:'skip', showlegend:false});
  });
  const leg1 = i===0 ? 'legend' : 'legend'+(2*i+1);
  const leg2 = 'legend'+(2*i+2);
  ['base','wfe','xday','ctrl'].forEach((k,si)=>{
    traces.push({x:dates, y:p[k], xaxis:xa, yaxis:ya, mode:'lines+markers', name:seriesNames[si],
      line:{color:COLORS[k], width:1}, marker:{color:COLORS[k], size:6}, legend:(si%2===0)?leg1:leg2});
  });
  layout['xaxis'+ax] = {type:'date', domain:[p.box[0]/W, p.box[1]/W], range:p.xr, anchor:ya,
    tick0:startDates[i], dtick:3*864e5, tickformat:'%-m/%-d', tickangle:-90, ticks:'outside', ticklen:5, tickcolor:'#000',
    showline:true, linecolor:'#000', linewidth:1, showgrid:false, zeroline:false, fixedrange:true,
    tickfont:{size:10, family:FONT, color:'#000'}};
  layout['yaxis'+ax] = {domain:[1-p.box[3]/H, 1-p.box[2]/H], range:p.yr, anchor:xa,
    tickmode:'array', tickvals:p.tv, ticktext:p.tt, tickangle:-90, ticks:'outside', ticklen:5, tickcolor:'#000',
    showline:true, linecolor:'#000', linewidth:1, showgrid:true, gridcolor:'#e4eef0', gridwidth:1, zeroline:false, fixedrange:true,
    tickfont:{size:10, family:FONT, color:'#000'},
    title:{text:'log cumulative cases per capita', font:{size:11, family:FONT, color:'#000'}, standoff:6}};
  shapes.push({type:'line', xref:xa+' domain', x0:0, x1:1, yref:ya, y0:0, y1:0, line:{color:'#111', width:1}, layer:'above'});
  lockdowns[i].forEach((d,li)=>{
    shapes.push({type:'line', xref:xa, x0:d, x1:d, yref:ya+' domain', y0:0, y1:1, line:{color:'#111', width:1, dash:'5px,3px'}, layer:'above'});
    annotations.push({xref:xa, yref:ya+' domain', x:d, y:p.labY, text: li===0 ? 'lockdown' : 'lockdown + 12 days',
      showarrow:false, xanchor:'left', yanchor:'middle', xshift:1, font:{size:9, family:FONT, color:'#222'}});
  });
  annotations.push({xref:'paper', yref:'paper', x:p.tx/W, y:1-p.ty/H, text:titles[i], showarrow:false,
    xanchor:'center', yanchor:'middle', font:{size:23.4, family:SERIF, color:'#000'}});
  shapes.push({type:'rect', xref:'paper', yref:'paper', x0:p.leg[0]/W, x1:p.leg[1]/W, y0:1-p.leg[3]/H, y1:1-p.leg[2]/H,
    line:{color:'#444', width:1}, fillcolor:'rgba(0,0,0,0)', layer:'above'});
  const legCfg = x => ({x:x/W, y:1-p.legY/H, xanchor:'left', yanchor:'top', orientation:'v', traceorder:'normal', bgcolor:'rgba(0,0,0,0)',
    borderwidth:0, font:{size:11, family:FONT, color:'#000'}, itemwidth:30, tracegroupgap:0, itemclick:false, itemdoubleclick:false});
  layout[leg1] = legCfg(p.legX[0]);
  layout[leg2] = legCfg(p.legX[1]);
});
layout.shapes = shapes;
layout.annotations = annotations;

Plotly.newPlot('chart', traces, layout, {displayModeBar:false, staticPlot:true}).then(()=>{
  if(problems.length) throw new Error(problems.join('; '));
});
</script>
</body></html>
